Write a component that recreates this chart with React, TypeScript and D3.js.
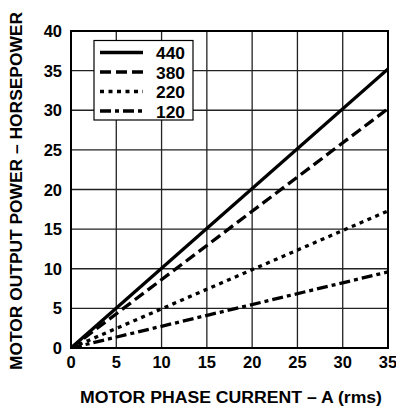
import React from "react";
import * as d3 from "d3";

const xTicks = [0, 5, 10, 15, 20, 25, 30, 35];
const yTicks = [0, 5, 10, 15, 20, 25, 30, 35, 40];
const seriesNames = ["440", "380", "220", "120"];
const seriesEndValues = [35.2, 30.2, 17.3, 9.6];
const seriesStartX = [0, 0, 0, 0];
const seriesEndX = [35, 35, 35, 35];
const dashes = ["none", "11,5", "4,4.5", "11,4,4,4"];

const W = 396, H = 406;
const L = 71, R = 388, T = 31, B = 348;

export default function App() {
  const x = d3.scaleLinear().domain([0, 35]).range([L, R]);
  const y = d3.scaleLinear().domain([0, 40]).range([B, T]);
  const line = d3.line<[number, number]>().x(d => x(d[0])).y(d => y(d[1]));
  const font = "'Liberation Sans', Arial, sans-serif";
  return (
    <svg width={W} height={H} style={{ position: "absolute", left: 0, top: 0 }} fontFamily={font} fontWeight="bold">
      <rect x={0} y={0} width={W} height={H} fill="#fff" />
      {xTicks.map(t => (
        <line key={"gx" + t} x1={x(t)} x2={x(t)} y1={T} y2={B} stroke="#222" strokeWidth={1.3} />
      ))}
      {yTicks.map(t => (
        <line key={"gy" + t} x1={L} x2={R} y1={y(t)} y2={y(t)} stroke="#222" strokeWidth={1.3} />
      ))}
      <rect x={L} y={T} width={R - L} height={B - T} fill="none" stroke="#000" strokeWidth={2} />
      <defs>
        <clipPath id="plot"><rect x={L} y={T - 2} width={R - L + 1} height={B - T + 2} /></clipPath>
      </defs>
      <g clipPath="url(#plot)">
        {seriesNames.map((n, i) => (
          <path key={n} d={line([[seriesStartX[i], 0], [seriesEndX[i], seriesEndValues[i]]]) || ""}
            fill="none" stroke="#000" strokeWidth={3.3} strokeDasharray={dashes[i]} />
        ))}
      </g>
      {xTicks.map(t => (
        <text key={"tx" + t} x={x(t)} y={368} textAnchor="middle" fontSize={16.5}>{t}</text>
      ))}
      {yTicks.map(t => (
        <text key={"ty" + t} x={62} y={y(t) + 6} textAnchor="end" fontSize={16.5}>{t}</text>
      ))}
      <rect x={94} y={40.5} width={99} height={79.5} fill="#fff" stroke="#000" strokeWidth={1.2} />
      {seriesNames.map((n, i) => (
        <g key={"lg" + n}>
          <line x1={100} x2={143} y1={52.5 + i * 19.5} y2={52.5 + i * 19.5} stroke="#000" strokeWidth={3.3} strokeDasharray={dashes[i]} />
          <text x={156} y={59 + i * 19.5} fontSize={16.5} textLength={29} lengthAdjust="spacingAndGlyphs">{n}</text>
        </g>
      ))}
      <text x={231} y={403} textAnchor="middle" fontSize={16} textLength={302} lengthAdjust="spacingAndGlyphs">MOTOR PHASE CURRENT – A (rms)</text>
      <text transform="translate(22,191) rotate(-90)" textAnchor="middle" fontSize={16} textLength={358} lengthAdjust="spacingAndGlyphs">MOTOR OUTPUT POWER – HORSEPOWER</text>
    </svg>
  );
}
